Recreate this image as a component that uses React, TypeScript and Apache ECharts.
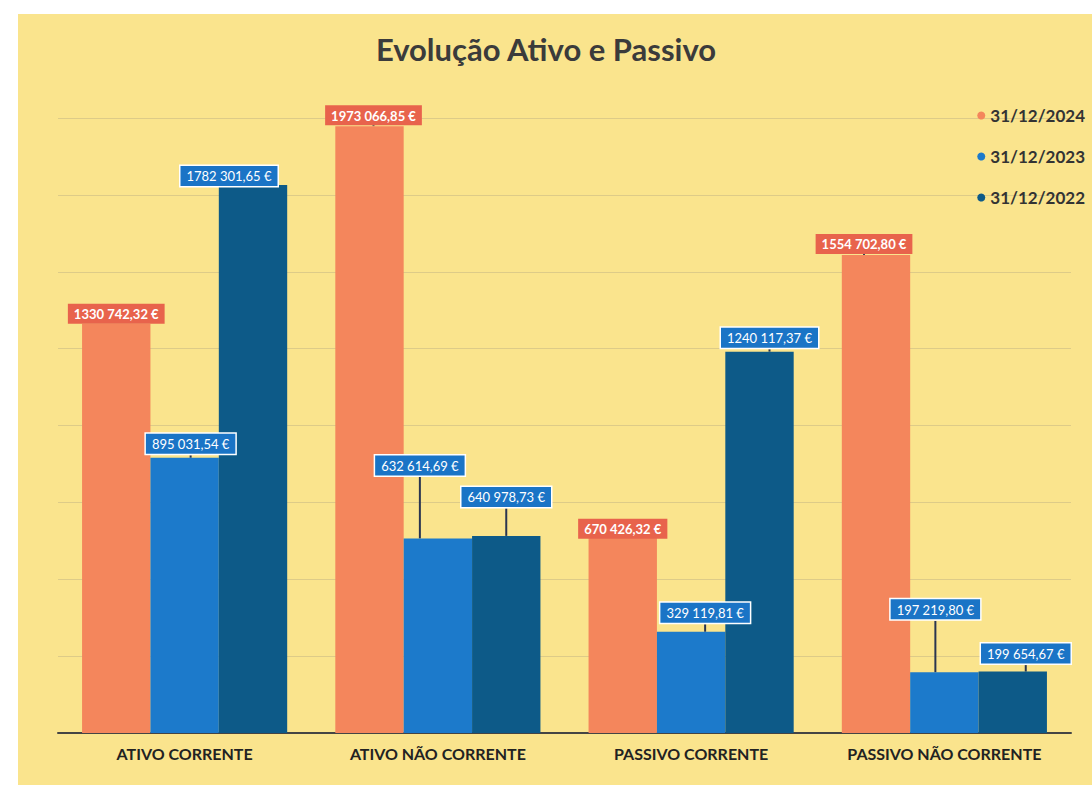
import React, { useEffect, useRef } from "react";
import * as echarts from "echarts";

const categories = ["ATIVO CORRENTE", "ATIVO NÃO CORRENTE", "PASSIVO CORRENTE", "PASSIVO NÃO CORRENTE"];
const seriesNames = ["31/12/2024", "31/12/2023", "31/12/2022"];
const values2024 = [1330742.32, 1973066.85, 670426.32, 1554702.8];
const values2023 = [895031.54, 632614.69, 329119.81, 197219.8];
const values2022 = [1782301.65, 640978.73, 1240117.37, 199654.67];

const colors = ["#f4865c", "#1c7acb", "#0d5a88"];
const labelBg = ["#e8634c", "#1a74c6", "#1a74c6"];
// label displacement (px) relative to default top position, per series/category
const labelShift = [
  [[0, 6], [4, 5], [0, 18], [-12, 5]],
  [[6, 2], [-18, -57], [14, -3], [-9, -47]],
  [[-24, 7], [0, -23], [10, 2], [13, -2]],
];

function fmt(v: number): string {
  const [i, d] = v.toFixed(2).split(".");
  const head = i.slice(0, i.length - 3);
  const tail = i.slice(i.length - 3);
  return head + " " + tail + "," + d + " €";
}

export default function App() {
  const ref = useRef<HTMLDivElement>(null);
  useEffect(() => {
    document.body.style.margin = "0";
    const chart = echarts.init(ref.current!, null, { renderer: "svg" });
    const all = [values2024, values2023, values2022];
    chart.setOption({
      animation: false,
      backgroundColor: "#ffffff",
      graphic: [
        {
          type: "rect",
          z: -10,
          silent: true,
          shape: { x: 18, y: 14, width: 1074, height: 771 },
          style: { fill: "#fae48d" },
        },
      ],
      title: {
        text: "Evolução Ativo e Passivo",
        left: "center",
        top: 28,
        textStyle: { fontFamily: "Lato", fontWeight: "bold", fontSize: 31, color: "#3b3b3b" },
      },
      legend: {
        orient: "vertical",
        right: 2,
        top: 102,
        itemGap: 24,
        itemWidth: 8,
        itemHeight: 8,
        icon: "circle",
        data: seriesNames,
        textStyle: { fontFamily: "Lato", fontWeight: "bold", fontSize: 17, color: "#333" },
      },
      grid: { left: 58, right: 21, top: 118, bottom: 56, containLabel: false },
      xAxis: {
        type: "category",
        data: categories,
        axisLine: { lineStyle: { color: "#444", width: 2 } },
        axisTick: { show: false },
        axisLabel: {
          fontFamily: "Lato",
          fontWeight: "bold",
          fontSize: 16,
          color: "#222",
          margin: 12,
        },
      },
      yAxis: {
        type: "value",
        min: 0,
        max: 2000000,
        interval: 250000,
        axisLabel: { show: false },
        axisLine: { show: false },
        axisTick: { show: false },
        splitLine: { lineStyle: { color: "#ddcb88", width: 1 } },
      },
      series: all.map((vals, si) => ({
        name: seriesNames[si],
        type: "bar",
        data: vals,
        barGap: "0%",
        barCategoryGap: "19%",
        itemStyle: { color: colors[si] },
        label: {
          show: true,
          position: "top",
          distance: 6,
          formatter: (p: any) => fmt(p.value),
          color: "#ffffff",
          fontFamily: "Lato",
          fontWeight: si === 0 ? "bold" : "normal",
          fontSize: 13,
          backgroundColor: labelBg[si],
          borderColor: si === 0 ? labelBg[si] : "#ffffff",
          borderWidth: si === 0 ? 0 : 1.5,
          padding: [4, 6, 3, 6],
        },
        labelLine: { show: true, lineStyle: { color: "#2a3550", width: 2 } },
        labelLayout: (params: any) => {
          const s = labelShift[si][params.dataIndex];
          return { dx: s[0], dy: s[1] };
        },
      })),
    });
    return () => chart.dispose();
  }, []);
  return <div ref={ref} style={{ position: "fixed", left: 0, top: 0, width: 1092, height: 789 }} />;
}
